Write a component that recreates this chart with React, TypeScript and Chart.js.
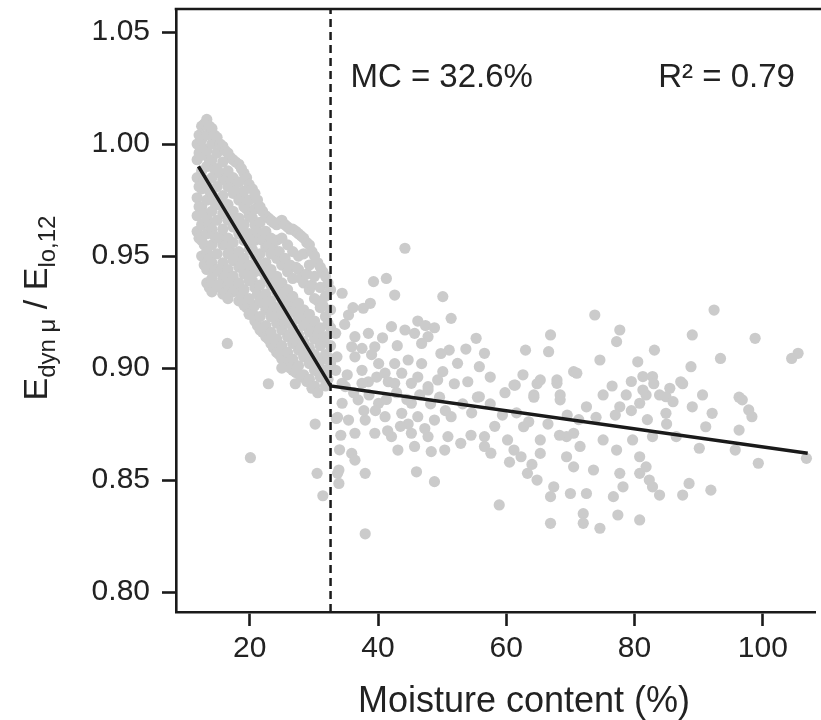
import React, { useEffect, useRef } from "react";
import { Chart, registerables } from "chart.js";

Chart.register(...registerables);

// ---------- data ----------
const xTickValues = [20, 40, 60, 80, 100];
const yTickValues = [0.8, 0.85, 0.9, 0.95, 1.0, 1.05];
const xLimits = [8.5, 108.2];
const yLimits = [0.7911, 1.0603];

const breakpointMC = 32.6;
const fitX = [12, 32.6, 107];
const fitY = [0.99, 0.892, 0.862];

const xTitle = "Moisture content (%)";
const mcLabel = "MC = 32.6%";
const r2Label = "R² = 0.79";

// dense cloud below the breakpoint: moisture content -> measured ratios
const denseColumns: [number, number[]][] = [
  [11.8, [1.0, 0.993, 0.985, 0.976, 0.968, 0.961]],
  [12.1, [1.004, 0.996, 0.981, 0.972, 0.958]],
  [12.5, [1.008, 1.002, 0.995, 0.988, 0.98, 0.972, 0.964, 0.957, 0.95]],
  [12.9, [1.009, 0.998, 0.984, 0.969, 0.955, 0.946]],
  [13.3, [1.011, 1.004, 0.997, 0.99, 0.982, 0.975, 0.967, 0.96, 0.952, 0.944, 0.938]],
  [13.7, [1.008, 0.993, 0.979, 0.964, 0.949, 0.936]],
  [14.1, [1.007, 1.0, 0.993, 0.985, 0.978, 0.97, 0.962, 0.955, 0.947, 0.94, 0.934]],
  [14.5, [1.004, 0.989, 0.974, 0.959, 0.943]],
  [14.9, [1.003, 0.996, 0.989, 0.981, 0.973, 0.966, 0.958, 0.951, 0.944, 0.937]],
  [15.4, [1.0, 0.987, 0.973, 0.958, 0.943, 0.936]],
  [15.8, [0.999, 0.992, 0.984, 0.977, 0.969, 0.962, 0.955, 0.947, 0.94, 0.933]],
  [16.2, [0.997, 0.984, 0.97, 0.955, 0.941, 0.934]],
  [16.6, [0.996, 0.988, 0.981, 0.973, 0.966, 0.958, 0.951, 0.944, 0.937, 0.931]],
  [17.0, [0.994, 0.981, 0.967, 0.952, 0.938]],
  [17.4, [0.993, 0.985, 0.978, 0.97, 0.963, 0.956, 0.948, 0.941, 0.934]],
  [17.8, [0.992, 0.979, 0.964, 0.949, 0.935]],
  [18.3, [0.991, 0.983, 0.975, 0.967, 0.96, 0.952, 0.945, 0.938, 0.93]],
  [18.7, [0.989, 0.976, 0.961, 0.946, 0.932]],
  [19.1, [0.987, 0.979, 0.972, 0.964, 0.957, 0.949, 0.942, 0.935, 0.928]],
  [19.5, [0.985, 0.971, 0.957, 0.942, 0.927]],
  [19.9, [0.982, 0.975, 0.968, 0.96, 0.953, 0.946, 0.939, 0.931, 0.924]],
  [20.4, [0.98, 0.967, 0.953, 0.939, 0.925]],
  [20.8, [0.978, 0.971, 0.964, 0.957, 0.95, 0.943, 0.936, 0.928, 0.921]],
  [21.2, [0.975, 0.961, 0.947, 0.933, 0.919]],
  [21.6, [0.972, 0.965, 0.958, 0.951, 0.944, 0.937, 0.93, 0.923, 0.917]],
  [22.0, [0.97, 0.957, 0.943, 0.929, 0.916]],
  [22.5, [0.968, 0.961, 0.954, 0.947, 0.94, 0.933, 0.926, 0.919, 0.914]],
  [22.9, [0.967, 0.955, 0.941, 0.927, 0.913]],
  [23.3, [0.966, 0.958, 0.951, 0.944, 0.937, 0.93, 0.923, 0.916, 0.911]],
  [23.7, [0.965, 0.953, 0.94, 0.926, 0.909]],
  [24.2, [0.964, 0.957, 0.949, 0.941, 0.934, 0.927, 0.92, 0.913, 0.907]],
  [24.6, [0.965, 0.952, 0.937, 0.923, 0.906]],
  [25.0, [0.966, 0.958, 0.946, 0.938, 0.931, 0.924, 0.917, 0.91, 0.904]],
  [25.5, [0.964, 0.949, 0.934, 0.92, 0.903]],
  [25.9, [0.963, 0.955, 0.943, 0.935, 0.928, 0.921, 0.914, 0.907, 0.901]],
  [26.3, [0.962, 0.946, 0.93, 0.915, 0.9]],
  [26.7, [0.962, 0.952, 0.94, 0.932, 0.925, 0.918, 0.911, 0.904, 0.899]],
  [27.2, [0.961, 0.945, 0.926, 0.912, 0.898]],
  [27.6, [0.96, 0.95, 0.944, 0.929, 0.922, 0.915, 0.908, 0.901]],
  [28.0, [0.959, 0.94, 0.923, 0.909, 0.896]],
  [28.4, [0.958, 0.951, 0.938, 0.926, 0.919, 0.912, 0.905, 0.897]],
  [28.9, [0.956, 0.942, 0.92, 0.906, 0.894]],
  [29.3, [0.955, 0.946, 0.935, 0.924, 0.916, 0.909, 0.902, 0.895]],
  [29.7, [0.952, 0.937, 0.918, 0.903, 0.891]],
  [30.1, [0.95, 0.941, 0.931, 0.921, 0.913, 0.906, 0.899, 0.892]],
  [30.6, [0.947, 0.93, 0.915, 0.9, 0.889]],
  [31.0, [0.945, 0.936, 0.927, 0.918, 0.91, 0.903, 0.896]],
  [31.4, [0.943, 0.928, 0.912, 0.897]],
  [31.8, [0.941, 0.932, 0.923, 0.914, 0.906, 0.899, 0.892]],
  [32.2, [0.938, 0.92, 0.905, 0.895]],
  [32.6, [0.935, 0.926, 0.918, 0.91, 0.902]],
];

// scattered specimens
const scatterPoints: [number, number][] = [
  [16.5, 0.911], [22.9, 0.893], [25.0, 0.9], [27.1, 0.893], [20.1, 0.86], [30.2, 0.875],
  [30.5, 0.853], [31.4, 0.843], [33.7, 0.853], [33.7, 0.878],
  [44.2, 0.9535], [39.3, 0.9386], [41.3, 0.94], [34.4, 0.9334], [42.6, 0.9326], [50.1, 0.9319],
  [38.8, 0.9289], [37.7, 0.9267], [35.4, 0.9237], [51.4, 0.9222], [33.4, 0.9155], [46.2, 0.921],
  [47.4, 0.919], [42.1, 0.9185], [44.2, 0.917], [45.7, 0.9155], [47.8, 0.914], [48.8, 0.918],
  [46.8, 0.911], [36.4, 0.914], [38.5, 0.9155], [35.9, 0.9095], [37.5, 0.9088], [55.3, 0.9133],
  [51.1, 0.908], [56.6, 0.9066], [52.4, 0.9021], [55.8, 0.9006], [63.0, 0.908], [66.9, 0.9148],
  [66.6, 0.9073], [70.5, 0.8984], [50.1, 0.8984], [54.0, 0.8939], [61.4, 0.8924], [65.3, 0.8947],
  [67.9, 0.8947], [36.4, 0.905], [39.0, 0.906], [40.1, 0.902], [42.6, 0.902], [44.7, 0.9036],
  [46.8, 0.902], [37.5, 0.899], [41.1, 0.8977], [43.7, 0.8977], [46.2, 0.896], [38.5, 0.8939],
  [41.6, 0.8939], [45.2, 0.8932], [47.8, 0.8917], [33.4, 0.899], [34.4, 0.8932], [49.3, 0.8947],
  [55.8, 0.8872], [64.3, 0.888], [68.4, 0.888],
  [34.9, 0.8917], [37.5, 0.8932], [42.6, 0.8932], [47.8, 0.8902], [51.9, 0.893], [55.5, 0.887],
  [61.2, 0.8924], [64.8, 0.893], [67.9, 0.8932], [64.3, 0.887], [68.4, 0.8858], [34.4, 0.8843],
  [36.9, 0.8858], [40.1, 0.8843], [45.2, 0.8843], [35.4, 0.8768], [38.0, 0.8768], [41.1, 0.8783],
  [43.7, 0.8798], [46.2, 0.8783], [48.8, 0.8768], [51.4, 0.8783], [36.4, 0.8709], [39.5, 0.8709],
  [42.1, 0.8694], [45.2, 0.8709], [47.8, 0.8694], [50.9, 0.8694], [52.9, 0.8664], [56.6, 0.8694],
  [56.6, 0.865], [60.2, 0.8679], [61.2, 0.8634], [62.3, 0.8604], [65.3, 0.8679], [65.3, 0.8619],
  [69.4, 0.8604], [62.7, 0.8738], [69.4, 0.8694], [35.9, 0.8619], [43.1, 0.8634], [45.7, 0.865],
  [48.3, 0.8627], [50.4, 0.8634], [36.4, 0.8589], [33.9, 0.8545], [38.0, 0.853], [46.0, 0.8537],
  [33.9, 0.8485], [48.8, 0.8493], [63.3, 0.853], [64.8, 0.85], [67.4, 0.847], [66.9, 0.8426],
  [70.0, 0.844], [58.9, 0.8389], [66.9, 0.8307], [38.0, 0.826],
  [73.8, 0.9237], [92.4, 0.9259], [77.7, 0.917], [77.2, 0.9118], [89.0, 0.9148], [98.8, 0.9133],
  [105.5, 0.9066], [104.5, 0.9043], [74.6, 0.9036], [83.1, 0.908], [93.4, 0.9043], [71.0, 0.8977],
  [80.5, 0.9028], [81.3, 0.8962], [82.8, 0.8962], [88.8, 0.9006], [87.2, 0.8939], [75.1, 0.888],
  [78.7, 0.888], [81.8, 0.888], [84.9, 0.8872], [90.6, 0.888], [96.3, 0.887],
  [87.5, 0.893], [81.3, 0.8902], [83.9, 0.888], [72.5, 0.8827], [77.7, 0.8827], [80.8, 0.8843],
  [84.9, 0.8798], [89.0, 0.8827], [92.1, 0.8798], [97.8, 0.8813], [98.3, 0.8783], [70.5, 0.8709],
  [75.1, 0.8679], [79.7, 0.8679], [82.8, 0.8694], [86.5, 0.8694], [91.1, 0.8738], [96.3, 0.8723],
  [71.5, 0.865], [77.2, 0.8634], [80.8, 0.8604], [90.1, 0.8642], [95.7, 0.8634], [99.3, 0.8575],
  [106.8, 0.8597], [70.5, 0.8559], [73.6, 0.8545], [77.7, 0.853], [80.8, 0.853], [72.5, 0.844],
  [76.7, 0.8426], [82.8, 0.847], [83.9, 0.8433], [88.5, 0.8485], [87.5, 0.8433], [91.9, 0.8455],
  [72.0, 0.835], [72.0, 0.8307], [74.6, 0.8285], [77.4, 0.8344], [80.8, 0.8322], [78.2, 0.847],
  [81.8, 0.8559], [82.3, 0.85], [96.8, 0.8858],
  [76.5, 0.892], [79.5, 0.894], [83.0, 0.893], [85.5, 0.891], [77.0, 0.879], [79.5, 0.881],
  [82.0, 0.877], [86.0, 0.885], [74.0, 0.878], [85.0, 0.875],
  [35.2, 0.897], [36.2, 0.889], [38.6, 0.888], [39.8, 0.896], [41.3, 0.886], [42.9, 0.889],
  [44.5, 0.886], [46.5, 0.888], [48.2, 0.884], [49.6, 0.887], [50.5, 0.881], [39.6, 0.881],
  [37.8, 0.881], [44.7, 0.875], [47.3, 0.873], [41.5, 0.872], [43.5, 0.874], [53.2, 0.884],
  [54.6, 0.88], [57.5, 0.884], [59.4, 0.879], [58.2, 0.874], [61.6, 0.88], [63.5, 0.876],
  [66.5, 0.875], [68.3, 0.87], [60.5, 0.858], [57.6, 0.862], [64.0, 0.857], [54.5, 0.87],
  [34.2, 0.87], [34.0, 0.8635], [33.5, 0.8775], [33.6, 0.905], [34.8, 0.9195], [36.1, 0.927],
  [39.5, 0.9095], [40.7, 0.9135], [43.0, 0.91], [49.8, 0.9065], [53.7, 0.9085], [57.5, 0.896],
  [59.8, 0.889], [62.6, 0.897], [69.5, 0.879], [71.3, 0.877],
];

const FONT = "'Liberation Sans', Arial, Helvetica, sans-serif";
const INK = "#1a1a1a";

const decorPlugin = {
  id: "decor",
  afterDraw(chart: any) {
    const { ctx, chartArea, scales } = chart;
    const xs = scales.x;
    const ys = scales.y;
    ctx.save();
    // top frame line
    ctx.strokeStyle = INK;
    ctx.lineWidth = 2.6;
    ctx.beginPath();
    ctx.moveTo(chartArea.left - 1.3, chartArea.top);
    ctx.lineTo(chart.width, chartArea.top);
    ctx.stroke();

    // annotations
    ctx.fillStyle = "#222";
    ctx.font = `33px ${FONT}`;
    ctx.textBaseline = "alphabetic";
    ctx.textAlign = "left";
    ctx.fillText(mcLabel, xs.getPixelForValue(35.7), ys.getPixelForValue(1.0255));
    ctx.fillText(r2Label, xs.getPixelForValue(83.7), ys.getPixelForValue(1.0255));

    // x title
    ctx.font = `36px ${FONT}`;
    ctx.textAlign = "center";
    ctx.fillText(xTitle, 524, 712);

    // y title with subscripts
    const parts = [
      { t: "E", sub: false },
      { t: "dyn μ", sub: true },
      { t: " / ", sub: false },
      { t: "E", sub: false },
      { t: "lo,12", sub: true },
    ];
    const mainFont = `34px ${FONT}`;
    const subFont = `24px ${FONT}`;
    let total = 0;
    const widths = parts.map((p) => {
      ctx.font = p.sub ? subFont : mainFont;
      const w = ctx.measureText(p.t).width;
      total += w;
      return w;
    });
    ctx.translate(47, 308);
    ctx.rotate(-Math.PI / 2);
    ctx.textAlign = "left";
    let cx = -total / 2;
    parts.forEach((p, i) => {
      ctx.font = p.sub ? subFont : mainFont;
      ctx.fillText(p.t, cx, p.sub ? 8 : 0);
      cx += widths[i];
    });
    ctx.restore();
  },
};

export default function App() {
  const canvasRef = useRef<HTMLCanvasElement | null>(null);

  useEffect(() => {
    if (!canvasRef.current) return;
    const densePts = denseColumns.flatMap(([x, ys]) => ys.map((y) => ({ x, y })));
    const otherPts = scatterPoints.map(([x, y]) => ({ x, y }));
    const fitPts = fitX.map((x, i) => ({ x, y: fitY[i] }));
    const breakPts = [
      { x: breakpointMC, y: yLimits[0] },
      { x: breakpointMC, y: yLimits[1] },
    ];

    const chart = new Chart(canvasRef.current, {
      type: "scatter",
      data: {
        datasets: [
          {
            label: "breakpoint",
            data: breakPts,
            showLine: true,
            borderColor: INK,
            borderWidth: 2.5,
            borderDash: [8, 5],
            pointRadius: 0,
            order: 0,
          },
          {
            label: "fit",
            data: fitPts,
            showLine: true,
            borderColor: INK,
            borderWidth: 3.5,
            pointRadius: 0,
            order: 1,
          },
          {
            label: "specimens",
            data: [...densePts, ...otherPts],
            backgroundColor: "#cbcbcb",
            borderWidth: 0,
            pointRadius: 5.6,
            order: 2,
          },
        ],
      },
      options: {
        animation: false,
        responsive: false,
        events: [],
        layout: { padding: { top: 9, right: -5, left: 0, bottom: 0 } },
        plugins: { legend: { display: false }, tooltip: { enabled: false } },
        scales: {
          x: {
            type: "linear",
            min: xLimits[0],
            max: xLimits[1],
            afterFit: (s: any) => {
              s.height = 108;
              s.paddingLeft = 0;
              s.paddingRight = 0;
            },
            afterBuildTicks: (s: any) => {
              s.ticks = xTickValues.map((v) => ({ value: v }));
            },
            grid: {
              drawOnChartArea: false,
              drawTicks: true,
              tickLength: 14,
              tickWidth: 2.6,
              tickColor: INK,
            },
            border: { display: true, color: INK, width: 2.6 },
            ticks: {
              autoSkip: false,
              maxRotation: 0,
              padding: 5,
              color: "#222",
              font: { family: FONT, size: 30 },
              callback: (v: any) => String(v),
            },
          },
          y: {
            type: "linear",
            min: yLimits[0],
            max: yLimits[1],
            afterFit: (s: any) => {
              s.width = 176;
              s.paddingTop = 0;
              s.paddingBottom = 0;
            },
            afterBuildTicks: (s: any) => {
              s.ticks = yTickValues.map((v) => ({ value: v }));
            },
            grid: {
              drawOnChartArea: false,
              drawTicks: true,
              tickLength: 14,
              tickWidth: 2.6,
              tickColor: INK,
            },
            border: { display: true, color: INK, width: 2.6 },
            ticks: {
              autoSkip: false,
              padding: 12,
              color: "#222",
              font: { family: FONT, size: 30 },
              callback: (v: any) => Number(v).toFixed(2),
            },
          },
        },
      },
      plugins: [decorPlugin],
    });
    return () => chart.destroy();
  }, []);

  return (
    <div style={{ position: "fixed", left: 0, top: 0, width: 821, height: 720, background: "#fff" }}>
      <canvas ref={canvasRef} width={821} height={720} style={{ width: 821, height: 720 }} />
    </div>
  );
}
